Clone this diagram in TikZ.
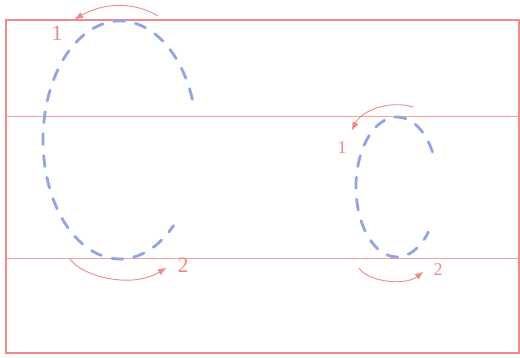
\documentclass[tikz,border=0pt]{standalone}
\usepackage{fontspec}
\setmainfont{Liberation Serif}
\usetikzlibrary{arrows.meta}
\definecolor{guide}{HTML}{F08A8A}
\definecolor{guidelight}{HTML}{F2A0A0}
\definecolor{stroke}{HTML}{94A3E4}
\tikzset{
  frame/.style={draw=guide, line width=1.2pt},
  guideline/.style={draw=guidelight, line width=1pt},
  letter/.style={draw=stroke, line width=2.8pt, line cap=round, dash pattern=on 11pt off 11pt},
  dir/.style={draw=guide, line width=0.9pt, -{Triangle[length=8pt,width=6pt]}},
  num/.style={text=guide, font=\fontsize{22}{22}\selectfont, inner sep=0pt},
  numsmall/.style={text=guide, font=\fontsize{18}{18}\selectfont, inner sep=0pt}
}
\begin{document}
\begin{tikzpicture}[x=1pt,y=-1pt]
\useasboundingbox (0,0) rectangle (520,358);
\fill[white] (0,0) rectangle (520,358);
% frame and guide lines
\draw[frame] (6,20) rectangle (519,353);
\draw[guideline] (6,117) -- (519,117);
\draw[guideline] (6,259) -- (519,259);
% big c
\draw[letter] (120,140) ++(-20:77 and 119) arc[start angle=-20, end angle=-314, x radius=77, y radius=119];
% small c
\draw[letter] (397,187) ++(-30:41 and 70) arc[start angle=-30, end angle=-320, x radius=41, y radius=70];
% big arrows
\coordinate (b1s) at (158,16);
\coordinate (b1e) at (75,19);
\draw[dir] (b1s) .. controls (135,2) and (105,2) .. (b1e);
\node[num] (n1) at (57,33) {1};
\coordinate (b2s) at (70,259);
\coordinate (b2e) at (166,268);
\draw[dir] (b2s) .. controls (80,275) and (130,290) .. (b2e);
\node[num] (n2) at (183,265) {2};
% small arrows
\coordinate (s1s) at (413,107);
\coordinate (s1e) at (352,130);
\draw[dir] (s1s) .. controls (390,100) and (362,110) .. (s1e);
\node[numsmall] (m1) at (342,148) {1};
\coordinate (s2s) at (359,268);
\coordinate (s2e) at (423,272);
\draw[dir] (s2s) .. controls (368,282) and (405,286) .. (s2e);
\node[numsmall] (m2) at (438,270) {2};
\end{tikzpicture}
\end{document}
